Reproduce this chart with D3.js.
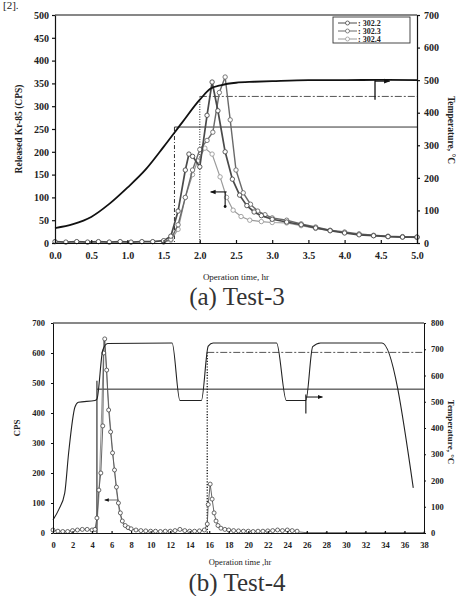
<!DOCTYPE html>
<html><head><meta charset="utf-8">
<script src="https://cdn.jsdelivr.net/npm/d3@7"></script>
<style>body{margin:0;background:#fff} svg{display:block}</style>
</head><body>
<svg id="c" width="456" height="596"></svg>
<script>
// ---------- Panel (a) Test-3 data ----------
const aXTicks = [0,0.5,1,1.5,2,2.5,3,3.5,4,4.5,5];
const aLeftTicks = [0,50,100,150,200,250,300,350,400,450,500];
const aRightTicks = [0,100,200,300,400,500,600,700];
const aTempT = [0,0.25,0.5,0.75,1.0,1.25,1.5,1.75,2.0,2.15,2.3,2.5,2.75,3.0,3.5,4.0,4.5,5.0];
const aTempV = [46,58,80,120,170,225,295,368,440,474,485,492,495,497,500,500,501,500];
const aS1T = [0,0.15,0.3,0.45,0.6,0.75,0.9,1.05,1.2,1.35,1.5,1.6,1.7,1.8,1.85,1.9,2.0,2.1,2.17,2.25,2.35,2.45,2.55,2.65,2.75,2.85,3.0,3.2,3.4,3.6,3.8,4.0,4.2,4.4,4.6,4.8,5.0];
const aS1V = [3,2,3,2,3,2,3,2,3,3,5,15,70,160,195,190,167,280,353,290,200,140,105,82,68,60,52,46,40,33,27,22,18,16,14,13,13];
const aS2T = [1.5,1.6,1.7,1.8,1.9,2.0,2.1,2.18,2.27,2.35,2.42,2.5,2.6,2.7,2.8,2.9,3.0,3.2,3.4,3.6,3.8,4.0,4.2,4.4,4.6,4.8,5.0];
const aS2V = [3,8,40,100,160,205,225,243,330,364,270,160,110,85,70,62,55,50,42,35,28,24,20,17,15,14,13];
const aS3T = [1.5,1.6,1.7,1.8,1.9,1.97,2.07,2.17,2.28,2.37,2.46,2.57,2.69,2.85,3.0,3.2,3.4,3.6,3.8,4.0,4.2,4.4,4.6,4.8,5.0];
const aS3V = [2,6,30,100,150,180,208,195,145,100,72,58,50,47,45,44,38,32,27,23,19,16,14,13,12];
const aLegend = [": 302.2", ": 302.3", ": 302.4"];

// ---------- Panel (b) Test-4 data ----------
const bXTicks = [0,2,4,6,8,10,12,14,16,18,20,22,24,26,28,30,32,34,36,38];
const bLeftTicks = [0,100,200,300,400,500,600,700];
const bRightTicks = [0,100,200,300,400,500,600,700,800];
const bTempT = [0,0.6,1.2,1.6,2.25,2.6,4.3,4.5,5.1,5.6,12.2,13.0,15.2,15.9,16.4,22.9,23.9,25.9,26.6,27.4,33.7,36.9];
const bTempV = [50,90,152,305,480,498,505,510,697,722,724,505,505,712,724,724,505,505,710,724,724,172];
const bS1T = [0,0.5,1,1.5,2,2.5,3,3.5,4,4.3,4.5,4.7,4.9,5.1,5.2,5.3,5.5,5.7,5.9,6.1,6.3,6.5,6.7,6.9,7.1,7.4,7.7,8.0,8.5,9,9.5,10,10.5,11,11.5,12,12.5,13,13.5,14,14.5,15,15.5,15.8,15.9,16.1,16.3,16.5,16.7,16.9,17.2,17.6,18,18.5,19,19.5,20,20.5,21,21.5,22,22.5,23,23.5,24,24.5,25];
const bS1V = [10,6,5,5,8,10,12,12,10,12,50,143,200,357,600,647,543,410,337,267,210,153,100,67,40,25,18,14,10,8,7,6,6,5,6,6,8,12,8,6,6,7,10,30,95,163,113,67,40,25,16,12,10,8,7,6,6,5,6,6,7,8,10,8,10,8,6];
const bS2T = [4.3,4.5,4.7,5.0,5.2,5.35,5.6,5.9,6.2,6.5,6.8,7.1,7.5,8.0];
const bS2V = [5,30,120,420,640,610,470,350,240,140,70,35,15,8];
const bTailT = [25,26,28,30,32,34,36,38];
const bTailV = [4,1,1,1,1,1,1,1];

const svg = d3.select("#c");
const SERIF = "'Liberation Serif','Times New Roman',serif";

const defs = svg.append("defs");
defs.append("marker").attr("id","ah").attr("viewBox","0 0 10 10").attr("refX",9).attr("refY",5)
  .attr("markerWidth",5).attr("markerHeight",5).attr("orient","auto")
  .append("path").attr("d","M0,1L10,5L0,9Z").attr("fill","#111");

// top-left reference mark "[2]."
svg.append("text").attr("x",3).attr("y",9).attr("font-family",SERIF).attr("font-size",11).attr("fill","#222").text("[2].");

function styleAxis(g, fs, weight) {
  g.selectAll("path,line").attr("stroke","#111").attr("stroke-width",1.2);
  g.selectAll("text").attr("font-family",SERIF).attr("font-size",fs).attr("font-weight",weight).attr("fill","#222");
}
function pts(T,V){ return T.map((t,i)=>[t,V[i]]); }

// ================= Panel (a) =================
{
  const x = d3.scaleLinear([0,5],[55,417]);
  const yL = d3.scaleLinear([0,500],[243,15]);
  const yR = d3.scaleLinear([0,700],[243,15]);
  const g = svg.append("g");

  g.append("line").attr("x1",x(0)).attr("x2",x(5)).attr("y1",yL(500)).attr("y2",yL(500)).attr("stroke","#111").attr("stroke-width",1.2);

  g.append("line").attr("x1",x(1.65)).attr("x2",x(5)).attr("y1",yR(356)).attr("y2",yR(356)).attr("stroke","#333").attr("stroke-width",1);
  g.append("line").attr("x1",x(1.65)).attr("x2",x(1.65)).attr("y1",yR(356)).attr("y2",yR(0)).attr("stroke","#333").attr("stroke-width",1).attr("stroke-dasharray","4,2,1,2");
  g.append("line").attr("x1",x(2.0)).attr("x2",x(5)).attr("y1",yR(450)).attr("y2",yR(450)).attr("stroke","#555").attr("stroke-width",1).attr("stroke-dasharray","7,2,2,2");
  g.append("line").attr("x1",x(2.0)).attr("x2",x(2.0)).attr("y1",yR(450)).attr("y2",yR(0)).attr("stroke","#333").attr("stroke-width",1.1).attr("stroke-dasharray","1,1.5");

  const lineL = d3.line().x(d=>x(d[0])).y(d=>yL(d[1]));
  const series = [
    {d:pts(aS1T,aS1V), c:"#4a4a4a", w:1.7},
    {d:pts(aS2T,aS2V), c:"#6a6a6a", w:1.4},
    {d:pts(aS3T,aS3V), c:"#9a9a9a", w:1.2}
  ];
  series.slice().reverse().forEach(s=>{
    g.append("path").attr("d",lineL(s.d)).attr("fill","none").attr("stroke",s.c).attr("stroke-width",s.w);
    g.selectAll(null).data(s.d).enter().append("circle").attr("cx",d=>x(d[0])).attr("cy",d=>yL(d[1])).attr("r",2.2)
      .attr("fill","#fff").attr("stroke",s.c).attr("stroke-width",0.9);
  });

  const lineR = d3.line().x(d=>x(d[0])).y(d=>yR(d[1])).curve(d3.curveMonotoneX);
  g.append("path").attr("d",lineR(pts(aTempT,aTempV))).attr("fill","none").attr("stroke","#111").attr("stroke-width",1.8);

  g.append("line").attr("x1",x(4.42)).attr("x2",x(4.42)).attr("y1",yR(500)).attr("y2",yR(440)).attr("stroke","#111").attr("stroke-width",1.3);
  g.append("line").attr("x1",x(4.42)).attr("x2",x(4.62)).attr("y1",yR(497)).attr("y2",yR(497)).attr("stroke","#111").attr("stroke-width",1.2).attr("marker-end","url(#ah)");
  g.append("line").attr("x1",x(2.37)).attr("x2",x(2.15)).attr("y1",yL(112)).attr("y2",yL(112)).attr("stroke","#111").attr("stroke-width",1.1).attr("marker-end","url(#ah)");
  g.append("line").attr("x1",x(2.35)).attr("x2",x(2.35)).attr("y1",yL(112)).attr("y2",yL(80)).attr("stroke","#111").attr("stroke-width",1.1);
  g.append("circle").attr("cx",x(2.35)).attr("cy",yL(80)).attr("r",1.4).attr("fill","#111");

  const ax = g.append("g").attr("transform",`translate(0,${yL(0)})`)
    .call(d3.axisBottom(x).tickValues(aXTicks).tickFormat(d3.format(".1f")).tickSizeInner(-3).tickSizeOuter(0).tickPadding(9));
  styleAxis(ax, 10, "bold");
  const al = g.append("g").attr("transform",`translate(${x(0)},0)`)
    .call(d3.axisLeft(yL).tickValues(aLeftTicks).tickSizeInner(3).tickSizeOuter(0).tickPadding(3));
  styleAxis(al, 10, "bold");
  const ar = g.append("g").attr("transform",`translate(${x(5)},0)`)
    .call(d3.axisRight(yR).tickValues(aRightTicks).tickSizeInner(3).tickSizeOuter(0).tickPadding(4));
  styleAxis(ar, 10, "bold");

  g.append("text").attr("transform","translate(22,129) rotate(-90)").attr("text-anchor","middle")
    .attr("font-family",SERIF).attr("font-size",9.5).attr("font-weight","bold").attr("fill","#222").text("Released Kr-85 (CPS)");
  g.append("text").attr("transform","translate(448,130) rotate(90)").attr("text-anchor","middle")
    .attr("font-family",SERIF).attr("font-size",9.5).attr("font-weight","bold").attr("fill","#222").text("Temperature, °C");
  g.append("text").attr("x",236).attr("y",280).attr("text-anchor","middle")
    .attr("font-family",SERIF).attr("font-size",9).attr("fill","#222").text("Operation time, hr");
  g.append("text").attr("x",237).attr("y",305).attr("text-anchor","middle")
    .attr("font-family",SERIF).attr("font-size",25).attr("fill","#333").text("(a) Test-3");

  const lg = g.append("g");
  lg.append("rect").attr("x",333).attr("y",17).attr("width",77).attr("height",26).attr("fill","#fff").attr("stroke","#333").attr("stroke-width",0.9);
  aLegend.forEach((t,i)=>{
    const yy = 23 + i*8, s = series[i];
    lg.append("line").attr("x1",338).attr("x2",357).attr("y1",yy).attr("y2",yy).attr("stroke",s.c).attr("stroke-width",1);
    lg.append("circle").attr("cx",347.5).attr("cy",yy).attr("r",2).attr("fill","#fff").attr("stroke",s.c).attr("stroke-width",0.8);
    lg.append("text").attr("x",358).attr("y",yy+3).attr("font-family",SERIF).attr("font-size",8).attr("font-weight","bold").attr("fill","#222").text(t);
  });
}

// ================= Panel (b) =================
{
  const x = d3.scaleLinear([0,38],[53,424]);
  const yL = d3.scaleLinear([0,700],[533,323]);
  const yR = d3.scaleLinear([0,800],[533,323]);
  const g = svg.append("g");

  g.append("line").attr("x1",x(0)).attr("x2",x(38)).attr("y1",yL(700)).attr("y2",yL(700)).attr("stroke","#111").attr("stroke-width",1);

  g.append("line").attr("x1",x(4.5)).attr("x2",x(38)).attr("y1",yR(548)).attr("y2",yR(548)).attr("stroke","#222").attr("stroke-width",1);
  g.append("line").attr("x1",x(4.5)).attr("x2",x(4.5)).attr("y1",yR(580)).attr("y2",yR(0)).attr("stroke","#222").attr("stroke-width",1.1);
  g.append("line").attr("x1",x(15.8)).attr("x2",x(38)).attr("y1",yR(688)).attr("y2",yR(688)).attr("stroke","#555").attr("stroke-width",1).attr("stroke-dasharray","7,2,2,2");
  g.append("line").attr("x1",x(15.8)).attr("x2",x(15.8)).attr("y1",yR(688)).attr("y2",yR(0)).attr("stroke","#222").attr("stroke-width",1.4).attr("stroke-dasharray","1.2,1.6");

  const lineL = d3.line().x(d=>x(d[0])).y(d=>yL(d[1]));
  g.append("path").attr("d",lineL(pts(bS2T,bS2V))).attr("fill","none").attr("stroke","#777").attr("stroke-width",0.8);
  g.append("path").attr("d",lineL(pts(bTailT,bTailV))).attr("fill","none").attr("stroke","#555").attr("stroke-width",0.9);
  g.selectAll(null).data(pts(bTailT,bTailV)).enter().append("circle").attr("cx",d=>x(d[0])).attr("cy",d=>yL(d[1])).attr("r",1)
    .attr("fill","#555");
  const s1 = pts(bS1T,bS1V);
  g.append("path").attr("d",lineL(s1)).attr("fill","none").attr("stroke","#555").attr("stroke-width",0.9);
  g.selectAll(null).data(s1).enter().append("circle").attr("cx",d=>x(d[0])).attr("cy",d=>yL(d[1])).attr("r",2)
    .attr("fill","#fff").attr("stroke","#444").attr("stroke-width",0.8);

  const lineR = d3.line().x(d=>x(d[0])).y(d=>yR(d[1])).curve(d3.curveMonotoneX);
  g.append("path").attr("d",lineR(pts(bTempT,bTempV))).attr("fill","none").attr("stroke","#222").attr("stroke-width",1.1);

  g.append("line").attr("x1",x(25.9)).attr("x2",x(25.9)).attr("y1",yR(528)).attr("y2",yR(455)).attr("stroke","#111").attr("stroke-width",1.1);
  g.append("line").attr("x1",x(25.9)).attr("x2",x(27.6)).attr("y1",yR(518)).attr("y2",yR(518)).attr("stroke","#111").attr("stroke-width",1).attr("marker-end","url(#ah)");
  g.append("line").attr("x1",x(6.7)).attr("x2",x(5.3)).attr("y1",yL(110)).attr("y2",yL(110)).attr("stroke","#555").attr("stroke-width",0.9).attr("marker-end","url(#ah)");

  const ax = g.append("g").attr("transform",`translate(0,${yL(0)})`)
    .call(d3.axisBottom(x).tickValues(bXTicks).tickFormat(d3.format("d")).tickSizeInner(-2).tickSizeOuter(0).tickPadding(9));
  styleAxis(ax, 8.5, "bold");
  const al = g.append("g").attr("transform",`translate(${x(0)},0)`)
    .call(d3.axisLeft(yL).tickValues(bLeftTicks).tickSizeInner(2).tickSizeOuter(0).tickPadding(6));
  styleAxis(al, 8.5, "bold");
  const ar = g.append("g").attr("transform",`translate(${x(38)},0)`)
    .call(d3.axisRight(yR).tickValues(bRightTicks).tickSizeInner(2).tickSizeOuter(0).tickPadding(5));
  styleAxis(ar, 8.5, "bold");
  g.selectAll("path.domain").attr("stroke-width",1);

  g.append("text").attr("transform","translate(20,428) rotate(-90)").attr("text-anchor","middle")
    .attr("font-family",SERIF).attr("font-size",9).attr("font-weight","bold").attr("fill","#222").text("CPS");
  g.append("text").attr("transform","translate(448,432) rotate(90)").attr("text-anchor","middle")
    .attr("font-family",SERIF).attr("font-size",9).attr("font-weight","bold").attr("fill","#222").text("Temperature, °C");
  g.append("text").attr("x",240).attr("y",565).attr("text-anchor","middle")
    .attr("font-family",SERIF).attr("font-size",8.5).attr("fill","#222").text("Operation time ,hr");
  g.append("text").attr("x",237).attr("y",591).attr("text-anchor","middle")
    .attr("font-family",SERIF).attr("font-size",25).attr("fill","#333").text("(b) Test-4");
}
</script>
</body></html>
